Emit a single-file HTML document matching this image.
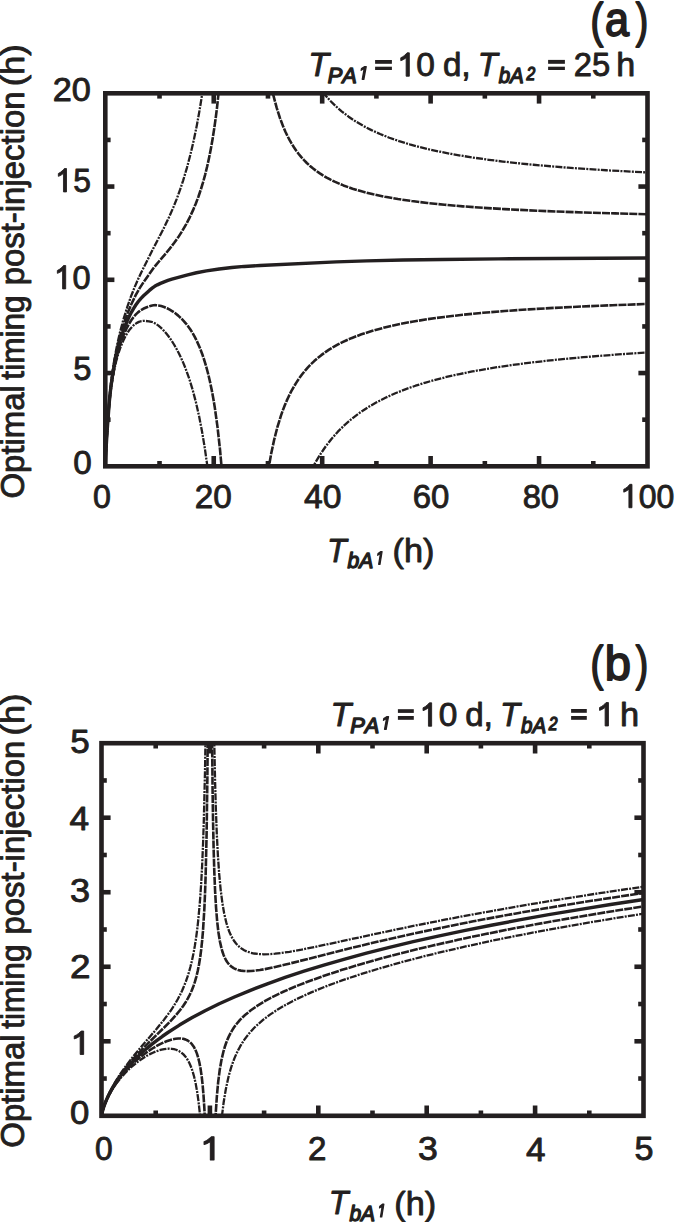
<!DOCTYPE html>
<html><head><meta charset="utf-8"><style>
html,body{margin:0;padding:0;background:#fff;}
body{width:685px;height:1222px;overflow:hidden;font-family:"Liberation Sans",sans-serif;}
svg{display:block;}
</style></head><body>
<svg width="685" height="1222" viewBox="0 0 685 1222"><defs><clipPath id="ca"><rect x="105.3" y="93.3" width="542.20" height="373.00"/></clipPath><clipPath id="cb"><rect x="101.5" y="743.2" width="542.00" height="372.60"/></clipPath></defs>
<g clip-path="url(#ca)" fill="none" stroke="#231f20" stroke-linejoin="round"><path d="M105.31,466.16 L105.84,452.40 L107.14,429.93 L109.22,400.65 L110.48,387.27 L112.34,372.55 L114.66,357.73 L117.13,344.79 L120.06,331.98 L123.21,320.24 L126.96,307.99 L130.70,297.19 L134.76,286.87 L138.06,279.24 L141.37,272.22 L153.38,248.26 L163.29,229.21 L169.30,216.62 L173.23,207.64 L176.76,198.82 L180.09,189.67 L183.18,180.34 L186.91,167.81 L190.50,154.20 L193.80,140.05 L196.88,125.11 L199.73,109.37 L202.37,92.88 L204.80,75.58 L207.24,56.00 L240.85,56.00" stroke-width="2.3" stroke-dasharray="7 1.2 2 1.2"/>
<path d="M240.85,503.60 L297.70,503.58 L301.66,492.35 L305.88,481.88 L310.36,472.13 L315.19,462.90 L320.32,454.30 L325.81,446.23 L331.66,438.70 L337.86,431.69 L344.52,425.10 L351.69,418.87 L359.31,413.07 L367.44,407.64 L376.14,402.54 L385.44,397.75 L395.35,393.28 L405.93,389.09 L415.54,385.71 L425.65,382.53 L436.28,379.55 L447.56,376.72 L459.61,374.02 L472.32,371.47 L485.74,369.06 L499.97,366.78 L514.92,364.64 L530.78,362.60 L547.35,360.70 L564.89,358.90 L583.55,357.18 L603.43,355.55 L624.73,353.98 L647.50,352.46" stroke-width="2.3" stroke-dasharray="7 1.2 2 1.2"/>
<path d="M105.31,466.16 L106.29,444.20 L108.17,415.58 L109.64,396.79 L111.34,381.71 L113.84,365.05 L115.22,357.44 L116.69,350.26 L118.32,343.18 L120.11,336.22 L121.94,329.84 L124.02,323.28 L127.57,313.28 L131.29,304.25 L135.40,295.72 L139.68,288.10 L143.78,281.84 L153.38,268.25 L156.52,264.33 L165.08,254.29 L169.96,248.35 L174.27,242.79 L177.99,237.59 L182.10,231.24 L186.09,224.35 L189.75,217.30 L193.18,209.89 L195.84,203.51 L198.40,196.73 L200.78,189.72 L203.02,182.42 L205.11,174.81 L207.15,166.53 L209.08,157.79 L210.83,148.95 L212.55,139.21 L214.10,129.38 L215.61,118.71 L217.01,107.59 L219.62,83.15 L221.93,56.00 L240.85,56.00" stroke-width="2.6" stroke-dasharray="8 1.1"/>
<path d="M240.85,503.60 L263.80,503.60 L266.03,485.49 L268.48,468.90 L271.16,453.79 L274.11,439.98 L277.31,427.48 L280.88,415.89 L282.80,410.44 L284.79,405.32 L286.87,400.40 L289.06,395.68 L291.34,391.17 L293.78,386.78 L296.33,382.60 L298.97,378.63 L301.76,374.78 L304.66,371.14 L307.71,367.64 L310.86,364.32 L314.22,361.09 L317.68,358.05 L321.29,355.14 L325.10,352.33 L329.06,349.66 L333.23,347.10 L337.55,344.67 L342.03,342.37 L346.60,340.22 L351.33,338.17 L361.45,334.33 L372.48,330.78 L384.53,327.52 L397.74,324.49 L412.08,321.72 L427.53,319.20 L444.21,316.92 L462.71,314.78 L482.84,312.82 L504.80,311.02 L528.70,309.36 L553.91,307.89 L581.57,306.52 L612.52,305.22 L647.50,303.97" stroke-width="2.6" stroke-dasharray="8 1.1"/>
<path d="M105.31,466.17 L105.84,452.82 L107.21,430.26 L109.29,402.91 L110.69,389.71 L112.74,375.77 L115.17,362.98 L117.79,352.23 L119.35,346.89 L120.96,341.97 L122.74,337.20 L124.87,332.12 L126.90,327.81 L128.99,323.91 L131.09,320.51 L133.27,317.48 L135.63,314.69 L137.98,312.36 L140.47,310.41 L143.25,308.78 L146.71,307.26 L151.18,305.69 L153.44,305.24 L155.62,305.17 L158.30,305.44 L161.20,306.08 L164.10,307.02 L167.08,308.26 L169.71,309.61 L172.46,311.28 L175.32,313.30 L178.22,315.63 L180.95,318.11 L183.57,320.79 L185.99,323.56 L188.20,326.39 L190.40,329.51 L192.47,332.79 L194.48,336.32 L196.40,340.06 L199.95,348.05 L202.20,353.95 L204.32,360.26 L206.32,366.98 L208.19,374.03 L210.01,381.76 L211.70,389.86 L213.26,398.25 L214.77,407.38 L217.52,427.11 L220.02,449.64 L222.24,474.77 L224.27,503.60 L240.85,503.60" stroke-width="2.6" stroke-dasharray="8 1.1"/>
<path d="M240.85,56.00 L266.07,56.00 L268.40,70.85 L270.91,84.18 L273.65,96.45 L276.65,107.67 L279.92,117.92 L283.51,127.34 L285.42,131.71 L287.43,135.92 L289.51,139.91 L291.65,143.64 L293.92,147.28 L296.27,150.71 L298.71,153.97 L301.31,157.13 L304.00,160.12 L306.83,162.99 L309.75,165.69 L312.85,168.31 L316.10,170.82 L319.46,173.17 L322.96,175.42 L326.67,177.59 L330.59,179.68 L334.66,181.67 L343.45,185.42 L352.55,188.66 L362.46,191.61 L373.29,194.32 L385.14,196.80 L397.95,199.04 L411.93,201.08 L427.38,202.98 L444.51,204.75 L462.81,206.34 L482.74,207.78 L504.55,209.11 L528.29,210.32 L555.39,211.47 L584.51,212.51 L615.22,213.42 L647.50,214.21" stroke-width="2.6" stroke-dasharray="8 1.1"/>
<path d="M105.31,466.17 L105.84,452.94 L107.04,433.18 L109.10,406.06 L110.21,394.90 L111.81,383.16 L113.90,371.40 L116.11,361.52 L118.59,352.82 L120.11,348.32 L121.69,344.24 L123.46,340.25 L125.32,336.54 L127.18,333.29 L129.08,330.41 L131.03,327.94 L132.99,325.87 L134.98,324.18 L136.96,322.85 L138.95,321.88 L140.92,321.26 L143.05,320.96 L145.52,320.94 L148.97,321.28 L151.41,321.77 L153.69,322.59 L155.88,323.80 L158.44,325.64 L161.06,327.91 L163.80,330.67 L166.53,333.79 L169.06,337.04 L171.53,340.58 L174.01,344.50 L176.45,348.74 L178.83,353.25 L181.12,357.99 L183.28,362.85 L185.38,368.00 L189.32,378.96 L192.80,390.33 L196.07,402.82 L199.11,416.33 L201.99,431.23 L204.61,446.94 L207.05,463.87 L209.25,481.37 L211.70,503.60 L240.85,503.60" stroke-width="2.3" stroke-dasharray="7 1.2 2 1.2"/>
<path d="M240.85,56.00 L301.41,56.00 L305.60,64.97 L309.75,72.83 L314.27,80.37 L319.05,87.37 L324.23,94.03 L329.72,100.22 L335.62,106.07 L341.93,111.56 L348.64,116.69 L355.75,121.46 L363.38,125.95 L371.46,130.13 L380.10,134.05 L389.36,137.73 L399.17,141.15 L409.69,144.37 L419.20,146.94 L429.31,149.40 L440.09,151.74 L451.27,153.92 L463.12,155.98 L475.62,157.94 L488.84,159.78 L502.82,161.53 L517.72,163.20 L533.42,164.76 L550.30,166.27 L568.04,167.69 L606.07,170.26 L647.50,172.48" stroke-width="2.3" stroke-dasharray="7 1.2 2 1.2"/>
<path d="M105.31,466.16 L105.84,452.68 L107.22,429.65 L109.30,401.81 L110.72,388.08 L112.81,373.45 L115.26,359.95 L117.95,348.27 L119.53,342.47 L121.17,337.03 L123.00,331.61 L125.10,326.00 L127.14,321.03 L129.22,316.48 L131.34,312.34 L133.51,308.55 L135.94,304.76 L138.34,301.47 L140.75,298.60 L143.50,295.78 L149.39,290.43 L152.46,287.89 L154.69,286.34 L157.37,284.84 L160.49,283.36 L164.17,281.85 L167.98,280.46 L171.88,279.22 L187.69,274.84 L196.47,272.78 L206.43,270.94 L219.23,268.98 L231.88,267.48 L244.26,266.43 L260.05,265.52 L336.32,261.85 L366.75,260.90 L403.25,260.07 L442.12,259.44 L498.54,258.85 L647.50,257.97" stroke-width="3.4"/></g>
<g clip-path="url(#cb)" fill="none" stroke="#231f20" stroke-linejoin="round"><path d="M101.51,1115.75 L102.32,1111.73 L103.72,1106.82 L105.52,1101.72 L107.70,1096.46 L110.17,1091.22 L112.95,1085.92 L116.06,1080.56 L119.49,1075.13 L125.74,1066.15 L133.10,1056.62 L140.40,1047.79 L156.72,1028.74 L163.92,1019.86 L170.25,1011.27 L173.03,1007.12 L175.55,1003.06 L177.89,998.98 L180.13,994.71 L182.16,990.47 L184.08,986.04 L185.82,981.56 L187.45,976.92 L188.96,972.10 L190.37,967.05 L191.98,960.50 L193.47,953.50 L194.84,945.91 L196.09,937.84 L197.23,929.24 L198.28,919.98 L200.11,899.18 L201.18,883.26 L202.13,865.52 L202.98,845.72 L203.73,823.60 L204.99,771.86 L206.02,705.94 L209.90,705.94" stroke-width="2.3" stroke-dasharray="7 1.2 2 1.2"/>
<path d="M209.90,1153.06 L218.81,1153.06 L220.21,1133.76 L221.81,1117.02 L223.67,1102.24 L225.82,1089.22 L228.30,1077.68 L229.69,1072.40 L231.18,1067.40 L232.78,1062.66 L234.50,1058.16 L236.35,1053.87 L238.31,1049.83 L240.15,1046.43 L242.11,1043.15 L244.22,1039.93 L246.45,1036.84 L248.83,1033.82 L251.33,1030.92 L254.03,1028.04 L256.85,1025.27 L263.03,1019.86 L269.97,1014.62 L277.72,1009.49 L286.34,1004.45 L292.03,1001.42 L298.10,998.38 L311.27,992.36 L325.91,986.38 L342.01,980.44 L359.63,974.52 L378.65,968.65 L399.14,962.82 L420.99,957.06 L444.19,951.37 L468.69,945.76 L494.54,940.22 L521.70,934.76 L550.16,929.37 L579.97,924.06 L611.09,918.83 L643.50,913.67" stroke-width="2.3" stroke-dasharray="7 1.2 2 1.2"/>
<path d="M101.51,1115.75 L102.30,1111.84 L103.67,1107.11 L105.42,1102.20 L107.53,1097.18 L109.92,1092.20 L112.61,1087.20 L115.61,1082.17 L118.90,1077.14 L122.68,1071.83 L126.79,1066.51 L131.24,1061.15 L136.13,1055.62 L140.89,1050.54 L146.24,1045.06 L163.69,1027.98 L169.68,1021.95 L175.55,1015.59 L180.38,1009.74 L183.16,1005.96 L185.63,1002.23 L187.87,998.43 L189.90,994.51 L191.74,990.44 L193.42,986.17 L194.94,981.65 L196.31,976.84 L197.76,970.80 L199.06,964.23 L200.22,957.03 L201.23,949.31 L202.15,940.59 L202.96,931.19 L204.35,908.95 L205.03,893.45 L205.63,875.87 L206.62,833.17 L207.38,777.88 L207.97,705.94 L209.90,705.94" stroke-width="2.6" stroke-dasharray="8 1.1"/>
<path d="M209.90,1153.06 L214.12,1153.06 L214.91,1130.58 L215.82,1111.91 L216.90,1095.85 L218.16,1082.14 L219.67,1070.30 L221.46,1059.99 L223.56,1051.07 L224.74,1047.03 L226.03,1043.22 L227.34,1039.86 L228.77,1036.62 L230.29,1033.59 L231.97,1030.62 L233.76,1027.81 L235.66,1025.14 L237.74,1022.53 L239.99,1019.96 L242.43,1017.46 L245.04,1015.02 L250.84,1010.27 L257.54,1005.58 L265.20,1000.94 L270.78,997.89 L276.80,994.84 L283.25,991.79 L290.19,988.72 L297.56,985.64 L305.42,982.54 L322.50,976.32 L341.25,970.10 L361.69,963.90 L383.69,957.74 L407.16,951.65 L431.88,945.69 L458.01,939.81 L485.49,934.02 L514.33,928.33 L544.58,922.71 L576.18,917.19 L609.13,911.76 L643.50,906.41" stroke-width="2.6" stroke-dasharray="8 1.1"/>
<path d="M101.51,1115.75 L102.04,1112.96 L102.96,1109.56 L104.12,1106.01 L105.51,1102.38 L107.08,1098.78 L108.82,1095.19 L110.74,1091.62 L112.84,1088.06 L117.41,1081.21 L122.58,1074.57 L128.30,1068.18 L134.50,1062.14 L137.93,1059.11 L141.48,1056.21 L145.09,1053.45 L148.75,1050.87 L152.39,1048.50 L156.04,1046.33 L159.63,1044.40 L163.15,1042.70 L166.53,1041.30 L169.68,1040.19 L172.69,1039.35 L175.57,1038.78 L178.26,1038.50 L180.76,1038.51 L183.06,1038.80 L185.21,1039.37 L187.69,1040.50 L189.95,1042.11 L191.94,1044.14 L193.77,1046.72 L195.37,1049.73 L196.85,1053.37 L198.18,1057.60 L199.38,1062.47 L200.62,1069.08 L201.72,1076.75 L202.69,1085.61 L203.54,1095.72 L204.29,1107.18 L204.95,1120.48 L206.07,1153.06 L209.90,1153.06" stroke-width="2.6" stroke-dasharray="8 1.1"/>
<path d="M209.90,705.94 L211.82,705.94 L212.58,789.63 L213.07,821.94 L213.64,849.21 L214.32,872.21 L215.12,891.57 L216.07,907.83 L217.18,921.45 L218.42,932.20 L219.87,941.24 L221.59,948.80 L222.54,952.02 L223.57,954.94 L224.70,957.61 L225.90,959.94 L227.20,962.03 L228.65,963.92 L230.18,965.53 L231.86,966.93 L233.66,968.11 L235.60,969.08 L238.11,969.98 L240.90,970.62 L243.95,970.99 L247.31,971.12 L251.05,971.00 L255.23,970.63 L259.89,970.00 L265.09,969.11 L274.14,967.24 L285.53,964.58 L343.20,949.97 L378.27,941.52 L414.32,933.41 L451.45,925.66 L473.35,921.34 L495.79,917.11 L518.83,912.93 L542.46,908.82 L566.75,904.77 L591.63,900.79 L643.50,892.96" stroke-width="2.6" stroke-dasharray="8 1.1"/>
<path d="M101.51,1115.75 L102.00,1113.16 L102.85,1109.98 L103.92,1106.69 L105.21,1103.31 L108.25,1096.66 L111.92,1090.11 L116.09,1083.86 L120.78,1077.85 L125.92,1072.18 L131.46,1066.91 L137.48,1061.98 L143.66,1057.70 L146.80,1055.81 L149.87,1054.15 L152.90,1052.70 L155.91,1051.45 L158.81,1050.43 L161.57,1049.65 L164.26,1049.10 L166.88,1048.76 L169.35,1048.66 L171.71,1048.79 L173.97,1049.15 L176.12,1049.75 L178.74,1050.88 L181.16,1052.41 L183.45,1054.37 L185.52,1056.72 L187.45,1059.51 L189.24,1062.77 L190.88,1066.49 L192.36,1070.59 L194.15,1076.79 L195.79,1084.11 L197.23,1092.26 L198.55,1101.77 L199.71,1112.26 L200.77,1124.39 L201.70,1137.71 L202.56,1153.04 L209.90,1153.06" stroke-width="2.3" stroke-dasharray="7 1.2 2 1.2"/>
<path d="M209.90,705.94 L213.72,705.94 L214.34,745.86 L215.05,779.86 L215.85,808.60 L216.80,833.78 L217.90,855.36 L219.18,873.83 L220.65,889.59 L222.37,902.98 L224.17,913.41 L226.23,922.29 L227.34,926.14 L228.56,929.75 L229.86,933.05 L231.27,936.10 L232.78,938.87 L234.36,941.32 L236.07,943.55 L237.89,945.54 L239.83,947.30 L241.95,948.86 L244.22,950.22 L246.61,951.35 L250.24,952.61 L254.25,953.51 L258.70,954.07 L263.57,954.28 L268.99,954.17 L275.07,953.72 L281.90,952.92 L289.59,951.77 L301.57,949.64 L316.59,946.62 L380.71,932.78 L414.92,925.64 L446.08,919.45 L477.41,913.54 L516.71,906.54 L557.37,899.76 L599.59,893.15 L643.50,886.70" stroke-width="2.3" stroke-dasharray="7 1.2 2 1.2"/>
<path d="M101.51,1115.75 L102.22,1112.22 L103.44,1107.93 L105.00,1103.49 L106.87,1098.96 L108.98,1094.49 L111.36,1090.01 L113.99,1085.55 L116.86,1081.12 L119.92,1076.80 L123.19,1072.53 L126.69,1068.31 L130.42,1064.11 L134.36,1059.98 L138.54,1055.87 L142.94,1051.82 L147.55,1047.83 L152.31,1043.93 L157.28,1040.08 L162.48,1036.26 L167.91,1032.49 L179.43,1025.06 L191.80,1017.81 L205.07,1010.72 L219.25,1003.78 L234.38,996.97 L250.43,990.31 L267.35,983.81 L285.14,977.47 L304.02,971.21 L323.82,965.10 L344.71,959.06 L366.49,953.18 L389.40,947.37 L413.20,941.70 L438.20,936.10 L464.15,930.62 L491.21,925.22 L519.32,919.93 L548.69,914.69 L579.03,909.57 L610.54,904.52 L643.50,899.51" stroke-width="3.4"/></g>
<g stroke="#231f20" stroke-width="4.6"><line x1="159.52" y1="466.30" x2="159.52" y2="461.00"/><line x1="159.52" y1="93.30" x2="159.52" y2="98.60"/><line x1="213.74" y1="466.30" x2="213.74" y2="456.00"/><line x1="213.74" y1="93.30" x2="213.74" y2="103.60"/><line x1="267.96" y1="466.30" x2="267.96" y2="461.00"/><line x1="267.96" y1="93.30" x2="267.96" y2="98.60"/><line x1="322.18" y1="466.30" x2="322.18" y2="456.00"/><line x1="322.18" y1="93.30" x2="322.18" y2="103.60"/><line x1="376.40" y1="466.30" x2="376.40" y2="461.00"/><line x1="376.40" y1="93.30" x2="376.40" y2="98.60"/><line x1="430.62" y1="466.30" x2="430.62" y2="456.00"/><line x1="430.62" y1="93.30" x2="430.62" y2="103.60"/><line x1="484.84" y1="466.30" x2="484.84" y2="461.00"/><line x1="484.84" y1="93.30" x2="484.84" y2="98.60"/><line x1="539.06" y1="466.30" x2="539.06" y2="456.00"/><line x1="539.06" y1="93.30" x2="539.06" y2="103.60"/><line x1="593.28" y1="466.30" x2="593.28" y2="461.00"/><line x1="593.28" y1="93.30" x2="593.28" y2="98.60"/><line x1="105.30" y1="419.68" x2="110.60" y2="419.68"/><line x1="647.50" y1="419.68" x2="642.20" y2="419.68"/><line x1="105.30" y1="373.05" x2="114.40" y2="373.05"/><line x1="647.50" y1="373.05" x2="638.40" y2="373.05"/><line x1="105.30" y1="326.43" x2="110.60" y2="326.43"/><line x1="647.50" y1="326.43" x2="642.20" y2="326.43"/><line x1="105.30" y1="279.80" x2="114.40" y2="279.80"/><line x1="647.50" y1="279.80" x2="638.40" y2="279.80"/><line x1="105.30" y1="233.18" x2="110.60" y2="233.18"/><line x1="647.50" y1="233.18" x2="642.20" y2="233.18"/><line x1="105.30" y1="186.55" x2="114.40" y2="186.55"/><line x1="647.50" y1="186.55" x2="638.40" y2="186.55"/><line x1="105.30" y1="139.93" x2="110.60" y2="139.93"/><line x1="647.50" y1="139.93" x2="642.20" y2="139.93"/></g><rect x="105.3" y="93.3" width="542.20" height="373.00" fill="none" stroke="#231f20" stroke-width="4.6"/>
<g stroke="#231f20" stroke-width="4.6"><line x1="155.70" y1="1115.80" x2="155.70" y2="1110.50"/><line x1="155.70" y1="743.20" x2="155.70" y2="748.50"/><line x1="209.90" y1="1115.80" x2="209.90" y2="1105.50"/><line x1="209.90" y1="743.20" x2="209.90" y2="753.50"/><line x1="264.10" y1="1115.80" x2="264.10" y2="1110.50"/><line x1="264.10" y1="743.20" x2="264.10" y2="748.50"/><line x1="318.30" y1="1115.80" x2="318.30" y2="1105.50"/><line x1="318.30" y1="743.20" x2="318.30" y2="753.50"/><line x1="372.50" y1="1115.80" x2="372.50" y2="1110.50"/><line x1="372.50" y1="743.20" x2="372.50" y2="748.50"/><line x1="426.70" y1="1115.80" x2="426.70" y2="1105.50"/><line x1="426.70" y1="743.20" x2="426.70" y2="753.50"/><line x1="480.90" y1="1115.80" x2="480.90" y2="1110.50"/><line x1="480.90" y1="743.20" x2="480.90" y2="748.50"/><line x1="535.10" y1="1115.80" x2="535.10" y2="1105.50"/><line x1="535.10" y1="743.20" x2="535.10" y2="753.50"/><line x1="589.30" y1="1115.80" x2="589.30" y2="1110.50"/><line x1="589.30" y1="743.20" x2="589.30" y2="748.50"/><line x1="101.50" y1="1078.54" x2="106.80" y2="1078.54"/><line x1="643.50" y1="1078.54" x2="638.20" y2="1078.54"/><line x1="101.50" y1="1041.28" x2="110.60" y2="1041.28"/><line x1="643.50" y1="1041.28" x2="634.40" y2="1041.28"/><line x1="101.50" y1="1004.02" x2="106.80" y2="1004.02"/><line x1="643.50" y1="1004.02" x2="638.20" y2="1004.02"/><line x1="101.50" y1="966.76" x2="110.60" y2="966.76"/><line x1="643.50" y1="966.76" x2="634.40" y2="966.76"/><line x1="101.50" y1="929.50" x2="106.80" y2="929.50"/><line x1="643.50" y1="929.50" x2="638.20" y2="929.50"/><line x1="101.50" y1="892.24" x2="110.60" y2="892.24"/><line x1="643.50" y1="892.24" x2="634.40" y2="892.24"/><line x1="101.50" y1="854.98" x2="106.80" y2="854.98"/><line x1="643.50" y1="854.98" x2="638.20" y2="854.98"/><line x1="101.50" y1="817.72" x2="110.60" y2="817.72"/><line x1="643.50" y1="817.72" x2="634.40" y2="817.72"/><line x1="101.50" y1="780.46" x2="106.80" y2="780.46"/><line x1="643.50" y1="780.46" x2="638.20" y2="780.46"/></g><rect x="101.5" y="743.2" width="542.00" height="372.60" fill="none" stroke="#231f20" stroke-width="4.6"/>
<g fill="#231f20" stroke="#231f20" stroke-width="0.9" stroke-linejoin="round" font-family="Liberation Sans, sans-serif"><g transform="translate(52.72,101.32) scale(1.0092,1)"><text x="0.00" y="0" font-size="34">2</text><text x="18.91" y="0" font-size="34">0</text></g>
<g transform="translate(55.47,191.92) scale(0.9364,1)"><path transform="translate(0.00,0) scale(0.01660,-0.01660)" stroke-width="54.21" d="M 710,0 L 515,0 L 515,1120 C 470,1080 420,1045 360,1012 C 300,979 240,955 185,938 L 185,1110 C 280,1150 362,1205 430,1268 C 498,1331 545,1370 570,1409 L 710,1409 Z"/><text x="18.91" y="0" font-size="34">5</text></g>
<g transform="translate(54.41,288.92) scale(0.9575,1)"><path transform="translate(0.00,0) scale(0.01660,-0.01660)" stroke-width="54.21" d="M 710,0 L 515,0 L 515,1120 C 470,1080 420,1045 360,1012 C 300,979 240,955 185,938 L 185,1110 C 280,1150 362,1205 430,1268 C 498,1331 545,1370 570,1409 L 710,1409 Z"/><text x="18.91" y="0" font-size="34">0</text></g>
<g transform="translate(73.24,380.02) scale(0.9615,1)"><text x="0.00" y="0" font-size="34">5</text></g>
<g transform="translate(73.25,474.12) scale(0.9783,1)"><text x="0.00" y="0" font-size="34">0</text></g>
<g transform="translate(93.09,507.72) scale(0.9475,1)"><text x="0.00" y="0" font-size="34">0</text></g>
<g transform="translate(194.77,507.72) scale(0.9804,1)"><text x="0.00" y="0" font-size="34">2</text><text x="18.91" y="0" font-size="34">0</text></g>
<g transform="translate(304.08,507.72) scale(0.9913,1)"><text x="0.00" y="0" font-size="34">4</text><text x="18.91" y="0" font-size="34">0</text></g>
<g transform="translate(412.78,507.72) scale(0.9694,1)"><text x="0.00" y="0" font-size="34">6</text><text x="18.91" y="0" font-size="34">0</text></g>
<g transform="translate(522.63,507.72) scale(0.9625,1)"><text x="0.00" y="0" font-size="34">8</text><text x="18.91" y="0" font-size="34">0</text></g>
<g transform="translate(620.86,507.72) scale(0.9421,1)"><path transform="translate(0.00,0) scale(0.01660,-0.01660)" stroke-width="54.21" d="M 710,0 L 515,0 L 515,1120 C 470,1080 420,1045 360,1012 C 300,979 240,955 185,938 L 185,1110 C 280,1150 362,1205 430,1268 C 498,1331 545,1370 570,1409 L 710,1409 Z"/><text x="18.91" y="0" font-size="34">0</text><text x="37.82" y="0" font-size="34">0</text></g>
<g stroke-width="1.8"><g transform="translate(590.41,37.16) scale(0.8015,1)"><text x="0.00" y="0" font-size="48">(</text></g></g>
<g stroke-width="1.8"><g transform="translate(605.06,36.43) scale(0.9004,1)"><text x="0.00" y="0" font-size="48">a</text></g></g>
<g stroke-width="1.8"><g transform="translate(635.78,37.16) scale(0.7779,1)"><text x="0.00" y="0" font-size="48">)</text></g></g>
<g transform="translate(308.21,76.05) scale(0.9938,1)"><text x="0.00" y="0" font-size="34" font-style="italic">T</text></g>
<g stroke-width="1.4"><g transform="translate(327.83,82.80) scale(0.9895,1)"><text x="0.00" y="0" font-size="22" font-style="italic">P</text><text x="14.67" y="0" font-size="22" font-style="italic">A</text></g></g>
<g stroke-width="1.4"><g transform="translate(358.70,79.30) scale(0.9576,1)"><path transform="translate(0.00,0) scale(0.00903,-0.00903)" stroke-width="154.98" d="M 412,0 L 650,1223 L 289,1000 L 324,1180 L 701,1409 L 867,1409 L 593,0 Z"/></g></g>
<rect x="375.10" y="60.00" width="16.80" height="3.80" stroke="none"/><rect x="375.10" y="66.70" width="16.80" height="3.30" stroke="none"/>
<g transform="translate(397.73,76.22) scale(0.9845,1)"><path transform="translate(0.00,0) scale(0.01660,-0.01660)" stroke-width="54.21" d="M 710,0 L 515,0 L 515,1120 C 470,1080 420,1045 360,1012 C 300,979 240,955 185,938 L 185,1110 C 280,1150 362,1205 430,1268 C 498,1331 545,1370 570,1409 L 710,1409 Z"/><text x="18.91" y="0" font-size="34">0</text></g>
<g transform="translate(443.06,76.02) scale(0.9745,1)"><text x="0.00" y="0" font-size="34">d</text></g>
<g transform="translate(461.30,76.40) scale(1.0000,1)"><text x="0.00" y="0" font-size="34">,</text></g>
<g transform="translate(477.72,76.05) scale(0.9583,1)"><text x="0.00" y="0" font-size="34" font-style="italic">T</text></g>
<g stroke-width="1.4"><g transform="translate(498.71,82.59) scale(0.9325,1)"><text x="0.00" y="0" font-size="22" font-style="italic">b</text><text x="12.24" y="0" font-size="22" font-style="italic">A</text></g></g>
<g stroke-width="1.4"><g transform="translate(526.49,79.90) scale(0.8493,1)"><text x="0.00" y="0" font-size="18.5" font-style="italic">2</text></g></g>
<rect x="548.10" y="59.90" width="16.80" height="3.90" stroke="none"/><rect x="548.10" y="66.70" width="16.80" height="3.30" stroke="none"/>
<g transform="translate(573.80,76.32) scale(0.9631,1)"><text x="0.00" y="0" font-size="34">2</text><text x="18.91" y="0" font-size="34">5</text></g>
<g transform="translate(616.18,75.95) scale(1.0039,1)"><text x="0.00" y="0" font-size="34">h</text></g>
<g transform="translate(326.97,561.65) scale(0.9431,1)"><text x="0.00" y="0" font-size="34" font-style="italic">T</text></g>
<g stroke-width="1.4"><g transform="translate(347.60,568.19) scale(0.9561,1)"><text x="0.00" y="0" font-size="22" font-style="italic">b</text><text x="12.24" y="0" font-size="22" font-style="italic">A</text></g></g>
<g stroke-width="1.4"><g transform="translate(375.50,564.30) scale(0.8427,1)"><path transform="translate(0.00,0) scale(0.00903,-0.00903)" stroke-width="154.98" d="M 412,0 L 650,1223 L 289,1000 L 324,1180 L 701,1409 L 867,1409 L 593,0 Z"/></g></g>
<g transform="translate(392.53,561.91) scale(1.0070,1)"><text x="0.00" y="0" font-size="34">(</text><text x="11.32" y="0" font-size="34">h</text><text x="30.23" y="0" font-size="34">)</text></g>
<g transform="translate(24.05,498.51) rotate(-90) scale(0.9970,1)"><text x="0.00" y="0" font-size="33">O</text><text x="25.67" y="0" font-size="33">p</text><text x="44.02" y="0" font-size="33">t</text><text x="53.19" y="0" font-size="33">i</text><text x="60.52" y="0" font-size="33">m</text><text x="88.01" y="0" font-size="33">a</text><text x="106.36" y="0" font-size="33">l</text></g><g transform="translate(24.05,379.63) rotate(-90) scale(0.9578,1)"><text x="0.00" y="0" font-size="33">t</text><text x="9.17" y="0" font-size="33">i</text><text x="16.50" y="0" font-size="33">m</text><text x="43.99" y="0" font-size="33">i</text><text x="51.32" y="0" font-size="33">n</text><text x="69.67" y="0" font-size="33">g</text></g><g transform="translate(24.05,285.37) rotate(-90) scale(0.9975,1)"><text x="0.00" y="0" font-size="33">p</text><text x="18.35" y="0" font-size="33">o</text><text x="36.71" y="0" font-size="33">s</text><text x="53.21" y="0" font-size="33">t</text><text x="62.37" y="0" font-size="33">-</text><text x="73.36" y="0" font-size="33">i</text><text x="80.70" y="0" font-size="33">n</text><text x="99.05" y="0" font-size="33">j</text><text x="106.38" y="0" font-size="33">e</text><text x="124.73" y="0" font-size="33">c</text><text x="141.23" y="0" font-size="33">t</text><text x="150.40" y="0" font-size="33">i</text><text x="157.73" y="0" font-size="33">o</text><text x="176.09" y="0" font-size="33">n</text></g><g transform="translate(24.05,86.28) rotate(-90) scale(1.0403,1)"><text x="0.00" y="0" font-size="33">(</text><text x="10.99" y="0" font-size="33">h</text><text x="29.34" y="0" font-size="33">)</text></g>
<g transform="translate(70.35,753.02) scale(1.0298,1)"><text x="0.00" y="0" font-size="34">5</text></g>
<g transform="translate(69.54,829.55) scale(1.0389,1)"><text x="0.00" y="0" font-size="34">4</text></g>
<g transform="translate(70.08,902.12) scale(1.0608,1)"><text x="0.00" y="0" font-size="34">3</text></g>
<g transform="translate(69.90,978.15) scale(1.0846,1)"><text x="0.00" y="0" font-size="34">2</text></g>
<g transform="translate(70.94,1054.45) scale(1.0785,1)"><path transform="translate(0.00,0) scale(0.01660,-0.01660)" stroke-width="54.21" d="M 710,0 L 515,0 L 515,1120 C 470,1080 420,1045 360,1012 C 300,979 240,955 185,938 L 185,1110 C 280,1150 362,1205 430,1268 C 498,1331 545,1370 570,1409 L 710,1409 Z"/></g>
<g transform="translate(70.09,1123.92) scale(1.0214,1)"><text x="0.00" y="0" font-size="34">0</text></g>
<g transform="translate(95.11,1159.92) scale(0.9352,1)"><text x="0.00" y="0" font-size="34">0</text></g>
<g transform="translate(200.53,1160.05) scale(1.1473,1)"><path transform="translate(0.00,0) scale(0.01660,-0.01660)" stroke-width="54.21" d="M 710,0 L 515,0 L 515,1120 C 470,1080 420,1045 360,1012 C 300,979 240,955 185,938 L 185,1110 C 280,1150 362,1205 430,1268 C 498,1331 545,1370 570,1409 L 710,1409 Z"/></g>
<g transform="translate(308.08,1160.05) scale(0.9749,1)"><text x="0.00" y="0" font-size="34">2</text></g>
<g transform="translate(418.09,1160.22) scale(1.0484,1)"><text x="0.00" y="0" font-size="34">3</text></g>
<g transform="translate(526.04,1160.55) scale(1.0331,1)"><text x="0.00" y="0" font-size="34">4</text></g>
<g transform="translate(634.38,1160.22) scale(1.0050,1)"><text x="0.00" y="0" font-size="34">5</text></g>
<g stroke-width="1.8"><g transform="translate(590.41,679.76) scale(0.8015,1)"><text x="0.00" y="0" font-size="48">(</text></g></g>
<g stroke-width="1.8"><g transform="translate(604.86,680.03) scale(0.9821,1)"><text x="0.00" y="0" font-size="48">b</text></g></g>
<g stroke-width="1.8"><g transform="translate(635.78,679.76) scale(0.7779,1)"><text x="0.00" y="0" font-size="48">)</text></g></g>
<g transform="translate(330.51,726.05) scale(0.9938,1)"><text x="0.00" y="0" font-size="34" font-style="italic">T</text></g>
<g stroke-width="1.4"><g transform="translate(350.13,732.80) scale(0.9895,1)"><text x="0.00" y="0" font-size="22" font-style="italic">P</text><text x="14.67" y="0" font-size="22" font-style="italic">A</text></g></g>
<g stroke-width="1.4"><g transform="translate(381.00,729.30) scale(0.9576,1)"><path transform="translate(0.00,0) scale(0.00903,-0.00903)" stroke-width="154.98" d="M 412,0 L 650,1223 L 289,1000 L 324,1180 L 701,1409 L 867,1409 L 593,0 Z"/></g></g>
<rect x="397.90" y="709.20" width="15.90" height="3.70" stroke="none"/><rect x="397.90" y="716.00" width="15.90" height="3.80" stroke="none"/>
<g transform="translate(420.03,726.22) scale(0.9845,1)"><path transform="translate(0.00,0) scale(0.01660,-0.01660)" stroke-width="54.21" d="M 710,0 L 515,0 L 515,1120 C 470,1080 420,1045 360,1012 C 300,979 240,955 185,938 L 185,1110 C 280,1150 362,1205 430,1268 C 498,1331 545,1370 570,1409 L 710,1409 Z"/><text x="18.91" y="0" font-size="34">0</text></g>
<g transform="translate(465.36,726.02) scale(0.9745,1)"><text x="0.00" y="0" font-size="34">d</text></g>
<g transform="translate(483.60,726.40) scale(1.0000,1)"><text x="0.00" y="0" font-size="34">,</text></g>
<g transform="translate(500.02,726.05) scale(0.9583,1)"><text x="0.00" y="0" font-size="34" font-style="italic">T</text></g>
<g stroke-width="1.4"><g transform="translate(521.01,732.59) scale(0.9325,1)"><text x="0.00" y="0" font-size="22" font-style="italic">b</text><text x="12.24" y="0" font-size="22" font-style="italic">A</text></g></g>
<g stroke-width="1.4"><g transform="translate(548.79,729.90) scale(0.8493,1)"><text x="0.00" y="0" font-size="18.5" font-style="italic">2</text></g></g>
<rect x="571.10" y="709.00" width="15.70" height="3.80" stroke="none"/><rect x="571.10" y="716.00" width="15.70" height="3.80" stroke="none"/>
<g transform="translate(596.41,725.95) scale(1.0211,1)"><path transform="translate(0.00,0) scale(0.01660,-0.01660)" stroke-width="54.21" d="M 710,0 L 515,0 L 515,1120 C 470,1080 420,1045 360,1012 C 300,979 240,955 185,938 L 185,1110 C 280,1150 362,1205 430,1268 C 498,1331 545,1370 570,1409 L 710,1409 Z"/></g>
<g transform="translate(620.07,725.95) scale(1.0109,1)"><text x="0.00" y="0" font-size="34">h</text></g>
<g transform="translate(328.77,1214.25) scale(0.9431,1)"><text x="0.00" y="0" font-size="34" font-style="italic">T</text></g>
<g stroke-width="1.4"><g transform="translate(349.40,1220.79) scale(0.9561,1)"><text x="0.00" y="0" font-size="22" font-style="italic">b</text><text x="12.24" y="0" font-size="22" font-style="italic">A</text></g></g>
<g stroke-width="1.4"><g transform="translate(377.30,1216.90) scale(0.8427,1)"><path transform="translate(0.00,0) scale(0.00903,-0.00903)" stroke-width="154.98" d="M 412,0 L 650,1223 L 289,1000 L 324,1180 L 701,1409 L 867,1409 L 593,0 Z"/></g></g>
<g transform="translate(394.33,1214.51) scale(1.0070,1)"><text x="0.00" y="0" font-size="34">(</text><text x="11.32" y="0" font-size="34">h</text><text x="30.23" y="0" font-size="34">)</text></g>
<g transform="translate(24.05,1147.71) rotate(-90) scale(0.9970,1)"><text x="0.00" y="0" font-size="33">O</text><text x="25.67" y="0" font-size="33">p</text><text x="44.02" y="0" font-size="33">t</text><text x="53.19" y="0" font-size="33">i</text><text x="60.52" y="0" font-size="33">m</text><text x="88.01" y="0" font-size="33">a</text><text x="106.36" y="0" font-size="33">l</text></g><g transform="translate(24.05,1028.83) rotate(-90) scale(0.9578,1)"><text x="0.00" y="0" font-size="33">t</text><text x="9.17" y="0" font-size="33">i</text><text x="16.50" y="0" font-size="33">m</text><text x="43.99" y="0" font-size="33">i</text><text x="51.32" y="0" font-size="33">n</text><text x="69.67" y="0" font-size="33">g</text></g><g transform="translate(24.05,934.57) rotate(-90) scale(0.9975,1)"><text x="0.00" y="0" font-size="33">p</text><text x="18.35" y="0" font-size="33">o</text><text x="36.71" y="0" font-size="33">s</text><text x="53.21" y="0" font-size="33">t</text><text x="62.37" y="0" font-size="33">-</text><text x="73.36" y="0" font-size="33">i</text><text x="80.70" y="0" font-size="33">n</text><text x="99.05" y="0" font-size="33">j</text><text x="106.38" y="0" font-size="33">e</text><text x="124.73" y="0" font-size="33">c</text><text x="141.23" y="0" font-size="33">t</text><text x="150.40" y="0" font-size="33">i</text><text x="157.73" y="0" font-size="33">o</text><text x="176.09" y="0" font-size="33">n</text></g><g transform="translate(24.05,735.48) rotate(-90) scale(1.0403,1)"><text x="0.00" y="0" font-size="33">(</text><text x="10.99" y="0" font-size="33">h</text><text x="29.34" y="0" font-size="33">)</text></g></g></svg>
</body></html>
